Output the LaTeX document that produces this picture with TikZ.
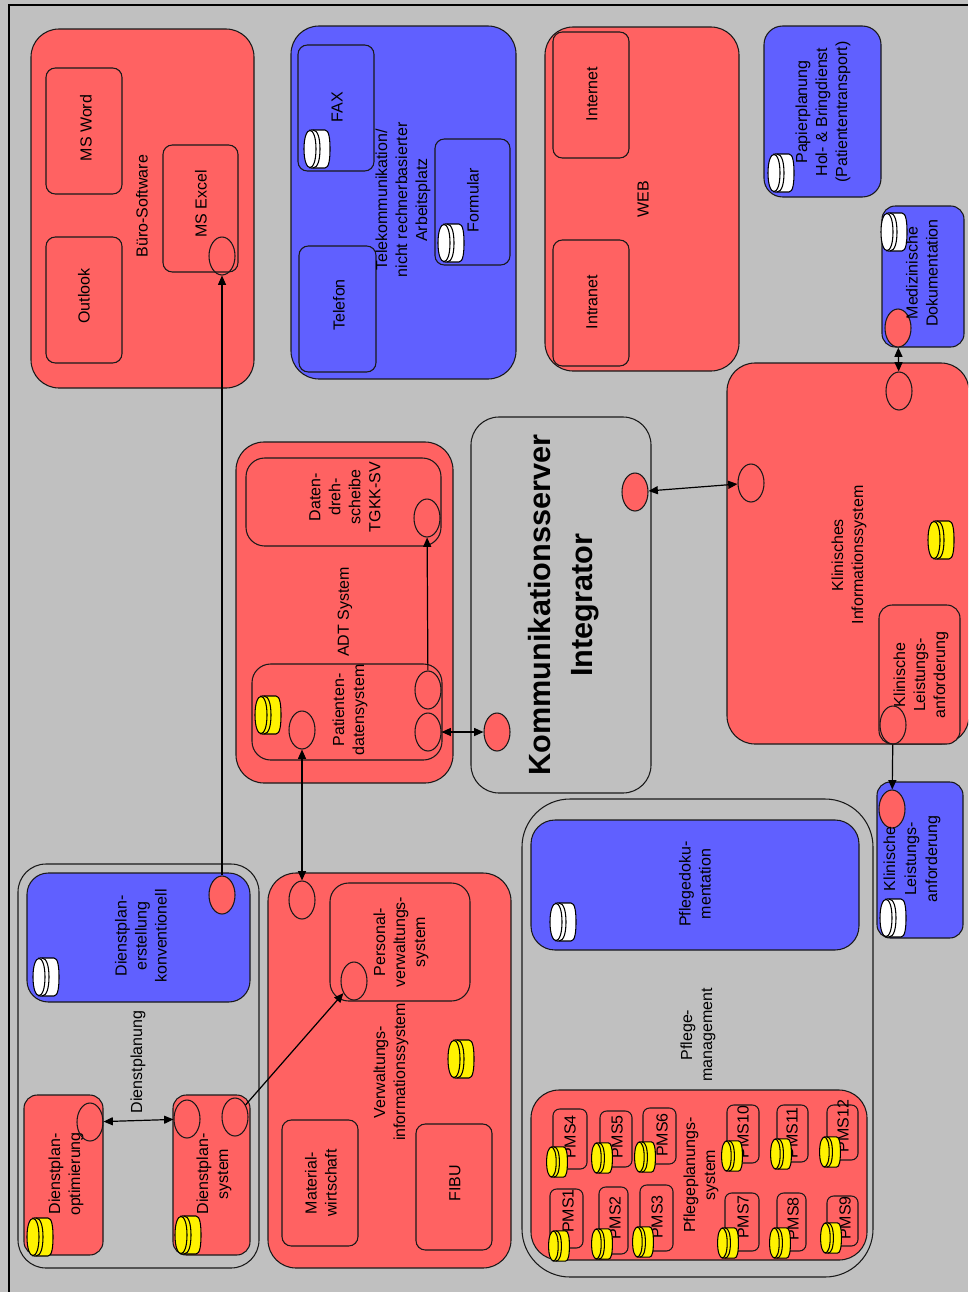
\documentclass[tikz,border=0pt]{standalone}
\usepackage{fontspec}
\setmainfont{Liberation Sans}
\usetikzlibrary{shapes.geometric,arrows.meta}
\definecolor{sysred}{RGB}{255,98,98}
\definecolor{sysblue}{RGB}{96,96,255}
\definecolor{sysgray}{RGB}{192,192,192}
\tikzset{
	box/.style={draw=black!90, line width=0.8pt, inner sep=0, outer sep=0, rectangle, rounded corners=7pt},
	bigbox/.style={box, rounded corners=21pt},
	redbox/.style={fill=sysred},
	bluebox/.style={fill=sysblue},
	port/.style={ellipse, draw=black!90, line width=0.8pt, inner sep=0, minimum width=19.5pt, minimum height=28.5pt},
	redport/.style={port, fill=sysred},
	lbl/.style={rotate=90, align=center, inner sep=0, font=\fontsize{12}{15}\selectfont},
	link/.style={line width=0.9pt, -{Triangle[length=7pt,width=6pt]}},
	dlink/.style={line width=0.9pt, {Triangle[length=7pt,width=6pt]}-{Triangle[length=7pt,width=6pt]}},
	dbcyl/.pic={
		\draw[pic actions] (-6,-19) -- (8,-19) .. controls (12,-19) and (13,-10) .. (13,0)
			.. controls (13,10) and (12,19) .. (8,19) -- (-6,19)
			.. controls (-11,19) and (-13,10) .. (-13,0)
			.. controls (-13,-10) and (-11,-19) .. (-6,-19) -- cycle;
		\draw (-8,-19) .. controls (-3,-19) and (-1,-10) .. (-1,0) .. controls (-1,10) and (-3,19) .. (-8,19);
		\draw (-4,-19) .. controls (1,-19) and (3,-10) .. (3,0) .. controls (3,10) and (1,19) .. (-4,19);
	}
}
% box from its two corners: style, name, x0, y0, x1, y1
\newcommand{\sysbox}[6][]{\node[box,#1,minimum width={(#5-#3)*0.75pt},minimum height={(#6-#4)*0.75pt}] (#2) at ({(#3+#5)/2},{(#4+#6)/2}) {};}

\begin{document}
\begin{tikzpicture}[x=0.75pt,y=-0.75pt,line width=0.8pt]
	\useasboundingbox (0,0) rectangle (968,1292);
	\fill[sysgray] (0,0) rectangle (968,1292);
	\clip (0,0) rectangle (968,1292);
	
	% frame
	\coordinate (FA) at (9,1292);
	\coordinate (FB) at (9,5);
	\coordinate (FC) at (968,5);
	\draw[line width=1.8pt] (FA) -- (FB) -- (FC);
	
	% Buero-Software
	\sysbox[bigbox,redbox]{buero}{31}{29}{254}{388}
	\sysbox[redbox]{word}{46}{68}{122}{194}
	\sysbox[redbox]{outlook}{46}{237}{122}{363}
	\sysbox[redbox]{excel}{163}{145}{238}{272}
	\node[lbl] (tbuero) at (142,206) {Büro-Software};
	\node[lbl] (tword) at (86,128) {MS Word};
	\node[lbl] (toutlook) at (84,296) {Outlook};
	\node[lbl] (texcel) at (201,204) {MS Excel};
	\node[port] (pexcel) at (222,256) {};
	
	% Telekommunikation
	\sysbox[bigbox,bluebox]{tele}{291}{26}{516}{379}
	\sysbox[bluebox]{fax}{298}{45}{374}{171}
	\sysbox[bluebox]{telefon}{299}{246}{376}{372}
	\sysbox[bluebox]{formular}{435}{139}{510}{265}
	\node[lbl] (ttele) at (403,200) {Telekommunikation/\\nicht rechnerbasierter\\Arbeitsplatz};
	\node[lbl] (tfax) at (337,107) {FAX};
	\node[lbl] (ttelefon) at (339,305) {Telefon};
	\node[lbl] (tformular) at (473,200) {Formular};
	\pic[fill=white] (cfax) at (317,149) {dbcyl};
	\pic[fill=white] (cformular) at (451,243) {dbcyl};
	
	% WEB
	\sysbox[bigbox,redbox]{web}{545}{27}{739}{371}
	\sysbox[redbox]{internet}{553}{32}{629}{158}
	\sysbox[redbox]{intranet}{553}{240}{629}{366}
	\node[lbl] (tweb) at (643,199) {WEB};
	\node[lbl] (tinternet) at (592,94) {Internet};
	\node[lbl] (tintranet) at (592,302) {Intranet};
	
	% Papierplanung
	\sysbox[bluebox,rounded corners=14pt]{papier}{764}{26}{881}{197}
	\node[lbl] (tpapier) at (823,112) {Papierplanung\\Hol- \& Bringdienst\\(Patiententransport)};
	\pic[fill=white] (cpapier) at (781,173) {dbcyl};
	
	% Medizinische Dokumentation
	\sysbox[bluebox,rounded corners=10pt]{meddok}{882}{206}{964}{347}
	\pic[fill=white] (cmeddok) at (894,232) {dbcyl};
	\node[redport] (pmeddok) at (898,328) {};
	\node[lbl] (tmeddok) at (922,273) {Medizinische\\Dokumentation};
	
	% Klinisches Informationssystem
	\sysbox[bigbox,redbox]{kis}{727}{363}{969}{744}
	\sysbox[redbox,rounded corners=10pt]{klinanf}{879}{605}{960}{744}
	\node[lbl] (tkis) at (849,555) {Klinisches\\Informationssystem};
	\node[lbl] (tklinanf) at (921,675) {Klinische\\Leistungs-\\anforderung};
	\pic[fill=yellow] (ckis) at (941,540) {dbcyl};
	\node[port] (pkismed) at (899,391) {};
	\node[port] (pkiskomm) at (751,483) {};
	\node[port] (pklinanf) at (893,725) {};
	
	% Klinische Leistungsanforderung
	\sysbox[bluebox,rounded corners=10pt]{klinleist}{877}{782}{963}{938}
	\pic[fill=white] (cklinleist) at (893,918) {dbcyl};
	\node[redport] (pklinleist) at (892,809) {};
	\node[lbl,font=\fontsize{12}{15.7}\selectfont] (tklinleist) at (912,859) {Klinische\\Leistungs-\\anforderung};
	
	% Kommunikationsserver
	\sysbox[bigbox]{komm}{471}{417}{651}{793}
	\node[lbl,font=\fontsize{23}{32}\selectfont\bfseries] (tkomm) at (563.5,605) {Kommunikationsserver\\Integrator};
	\node[redport] (pkommkis) at (635,492) {};
	\node[redport] (pkommadt) at (497,732) {};
	
	% ADT System
	\sysbox[bigbox,redbox]{adt}{236}{442}{453}{783}
	\sysbox[redbox,rounded corners=14pt]{dreh}{246}{458}{441}{546}
	\sysbox[redbox,rounded corners=14pt]{pds}{252}{664}{442}{760}
	\node[lbl] (tadt) at (345,612) {ADT System};
	\node[lbl] (tdreh) at (345,497) {Daten-\\dreh-\\scheibe\\TGKK-SV};
	\node[lbl] (tpds) at (350,710) {Patienten-\\datensystem};
	\pic[fill=yellow] (cpds) at (268,715) {dbcyl};
	\node[port] (pdreh) at (427,518) {};
	\node[port] (ppdsdreh) at (428,690) {};
	\node[port] (ppdskomm) at (428,732) {};
	\node[port] (ppdsverw) at (302,730) {};
	
	% Verwaltungsinformationssystem
	\sysbox[bigbox,redbox]{verw}{268}{873}{511}{1268}
	\sysbox[redbox,rounded corners=14pt]{personal}{330}{883}{470}{1001}
	\sysbox[redbox]{material}{282}{1120}{358}{1246}
	\sysbox[redbox]{fibu}{416}{1124}{492}{1250}
	\node[lbl] (tverw) at (391,1072) {Verwaltungs-\\informationssystem};
	\node[lbl] (tpersonal) at (401,942) {Personal-\\verwaltungs-\\system};
	\node[lbl] (tmaterial) at (321,1183) {Material-\\wirtschaft};
	\node[lbl] (tfibu) at (455,1183) {FIBU};
	\pic[fill=yellow] (cverw) at (461,1059) {dbcyl};
	\node[port] (pverw) at (302,900) {};
	\node[port] (ppersonal) at (354,981) {};
	
	% Dienstplanung
	\sysbox[bigbox]{dienst}{18}{864}{259}{1268}
	\sysbox[bluebox,rounded corners=16pt]{konv}{27}{873}{250}{1002}
	\sysbox[redbox,rounded corners=10pt]{optim}{24}{1095}{103}{1255}
	\sysbox[redbox,rounded corners=10pt]{dsys}{173}{1095}{250}{1255}
	\node[lbl] (tdienst) at (138,1062) {Dienstplanung};
	\node[lbl] (tkonv) at (141,936) {Dienstplan-\\erstellung\\konventionell};
	\node[lbl] (toptim) at (66,1174) {Dienstplan-\\optimierung};
	\node[lbl] (tdsys) at (214,1174) {Dienstplan-\\system};
	\pic[fill=white] (ckonv) at (46,977) {dbcyl};
	\pic[fill=yellow] (coptim) at (40,1237) {dbcyl};
	\pic[fill=yellow] (cdsys) at (188,1235) {dbcyl};
	\node[redport] (pkonv) at (222,895) {};
	\node[port] (poptim) at (90,1122) {};
	\node[port] (pdsysopt) at (187,1119) {};
	\node[port] (pdsyspers) at (235,1117) {};
	
	% Pflegemanagement
	\sysbox[box,rounded corners=36pt]{pflege}{522}{799}{873}{1277}
	\sysbox[bluebox,rounded corners=18pt]{pflegedok}{531}{820}{859}{950}
	\sysbox[bigbox,redbox]{ppsys}{531}{1090}{867}{1260}
	\node[lbl] (tpflegedok) at (695,884) {Pflegedoku-\\mentation};
	\node[lbl] (tpflege) at (698,1035) {Pflege-\\management};
	\node[lbl] (tppsys) at (701,1175) {Pflegeplanungs-\\system};
	\pic[fill=white] (cpflegedok) at (563,922) {dbcyl};
	
	% PMS boxes: number / box corners / label / cylinder
	\foreach \n/\xa/\ya/\xb/\yb/\xt/\yt/\xc/\yc in {
		4/553/1109/587/1169/570/1137/557/1162,
		5/600/1111/632/1167/617/1137/602/1158,
		6/643/1108/676/1164/662/1135/645/1157,
		1/550/1189/583/1248/568/1211/559/1246,
		2/599/1187/628/1254/615/1218/602/1244,
		3/640/1185/673/1251/657/1217/643/1242,
		10/727/1105/759/1163/743/1132/732/1156,
		11/777/1105/808/1162/792/1133/781/1154,
		12/827/1105/858/1160/843/1126/830/1152,
		7/725/1193/759/1251/743/1217/728/1243,
		8/777/1193/806/1251/793/1219/780/1243,
		9/827/1196/858/1246/845/1218/831/1238} {
		\sysbox[redbox,rounded corners=5pt]{pms\n}{\xa}{\ya}{\xb}{\yb}
		\node[lbl] (tpms\n) at (\xt,\yt) {PMS\n};
		\pic[fill=yellow,xscale=0.8,yscale=0.8] (cpms\n) at (\xc,\yc) {dbcyl};
	}
	
	% connectors
	\draw[link] (pkonv) -- (pexcel);
	\draw[link] (pdsyspers) -- (ppersonal);
	\draw[link] (ppdsdreh) -- (pdreh);
	\draw[link] (pklinanf) -- (pklinleist);
	\draw[dlink] (poptim) -- (pdsysopt);
	\draw[dlink] (ppdsverw) -- (pverw);
	\draw[dlink] (ppdskomm) -- (pkommadt);
	\draw[dlink] (pkommkis) -- (pkiskomm);
	\draw[dlink] (pmeddok) -- (pkismed);
\end{tikzpicture}
\end{document}
